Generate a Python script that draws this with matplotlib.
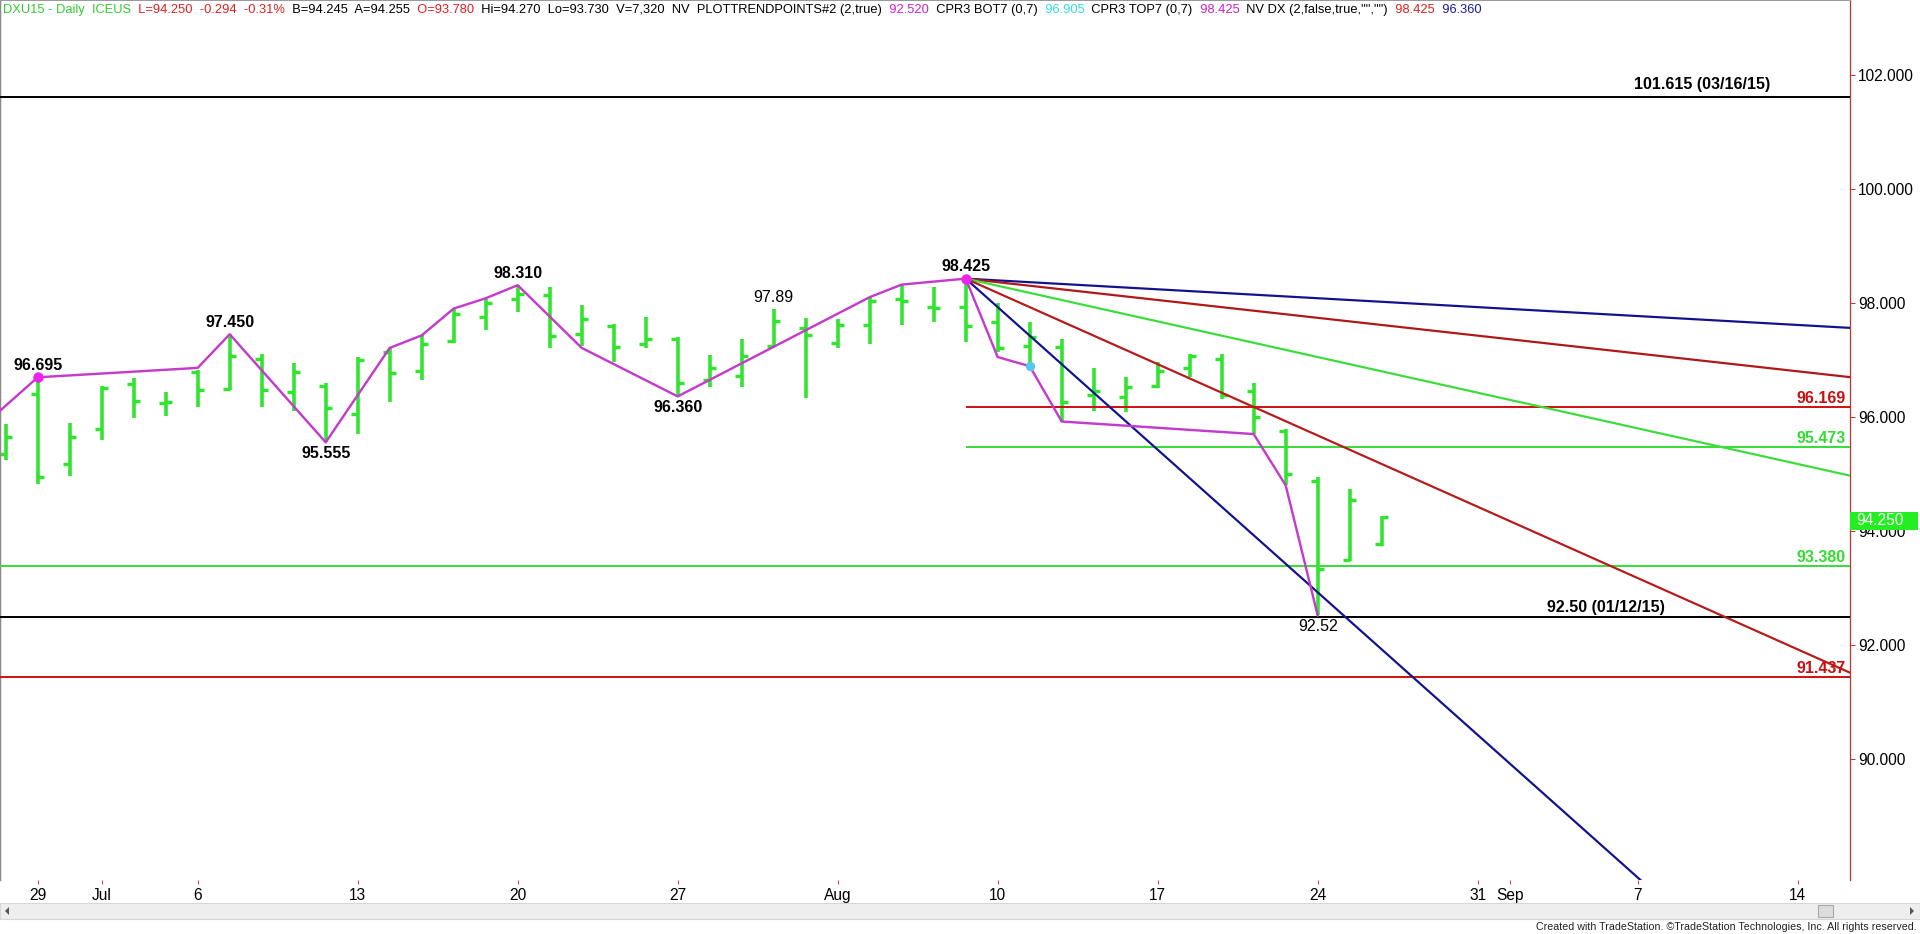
import numpy as np
import pandas as pd
import matplotlib
matplotlib.use("Agg")
import matplotlib.pyplot as plt
from matplotlib import font_manager
from matplotlib.patches import Rectangle, Polygon
import matplotlib.transforms as mtransforms

# ---------------- data ----------------
bar_dates = pd.bdate_range("2015-06-26", "2015-08-26")  # 44 daily bars
opens = [95.35, 96.41, 95.18, 95.79, 96.58, 96.25, 96.79, 96.49, 97.02, 96.43,
         96.55, 96.06, 97.13, 96.80, 97.34, 97.75, 98.07, 98.14, 97.46, 97.60,
         97.28, 97.37, 96.64, 96.71, 97.25, 97.56, 97.30, 97.62, 98.06, 97.93,
         97.93, 97.66, 97.24, 97.23, 96.38, 96.35, 96.55, 96.86, 97.02, 96.45,
         95.76, 94.87, 93.50, 93.78]
highs = [95.88, 96.695, 95.90, 96.55, 96.68, 96.44, 96.83, 97.45, 97.10, 96.94,
         96.60, 97.05, 97.20, 97.44, 97.90, 98.07, 98.31, 98.28, 97.96, 97.63,
         97.75, 97.40, 97.09, 97.37, 97.89, 97.73, 97.71, 98.10, 98.32, 98.28,
         98.425, 97.99, 97.66, 97.37, 96.86, 96.70, 96.97, 97.11, 97.11, 96.59,
         95.79, 94.94, 94.74, 94.27]
lows = [95.25, 94.83, 94.97, 95.60, 95.99, 96.01, 96.17, 96.48, 96.17, 96.10,
        95.555, 95.70, 96.27, 96.64, 97.30, 97.52, 97.84, 97.20, 97.25, 96.96,
        97.20, 96.36, 96.52, 96.52, 97.24, 96.33, 97.21, 97.28, 97.62, 97.66,
        97.32, 97.14, 96.90, 95.92, 96.10, 96.09, 96.51, 96.70, 96.32, 95.70,
        94.80, 92.52, 93.48, 93.73]
closes = [95.65, 94.94, 95.65, 96.51, 96.28, 96.27, 96.48, 97.07, 96.48, 96.79,
          96.15, 97.00, 96.77, 97.28, 97.81, 97.99, 98.16, 97.42, 97.72, 97.22,
          97.36, 96.59, 96.86, 97.07, 97.68, 97.43, 97.62, 98.03, 98.04, 97.91,
          97.60, 97.20, 97.40, 96.27, 96.45, 96.53, 96.80, 97.07, 96.38, 96.00,
          95.00, 93.34, 94.544, 94.25]

zigzag_dates = ["2015-06-25", "2015-06-29", "2015-07-06", "2015-07-07", "2015-07-10",
                "2015-07-14", "2015-07-15", "2015-07-16", "2015-07-17", "2015-07-20",
                "2015-07-22", "2015-07-27", "2015-08-04", "2015-08-05", "2015-08-07",
                "2015-08-10", "2015-08-11", "2015-08-12", "2015-08-20", "2015-08-21",
                "2015-08-24"]
zigzag_values = [95.70, 96.695, 96.86, 97.45, 95.555, 97.21, 97.43, 97.90, 98.08, 98.31,
                 97.21, 96.36, 98.10, 98.32, 98.425, 97.05, 96.89, 95.92, 95.70, 94.80,
                 92.52]

pivot_dates = ["2015-06-29", "2015-07-07", "2015-07-10", "2015-07-20",
               "2015-07-27", "2015-07-30", "2015-08-07", "2015-08-24"]
pivot_values = [96.695, 97.45, 95.555, 98.31, 96.36, 97.89, 98.425, 92.52]
pivot_texts = ["96.695", "97.450", "95.555", "98.310", "96.360", "97.89", "98.425", "92.52"]
pivot_above = [True, True, False, True, False, True, True, False]
pivot_bold = [True, True, True, True, True, False, True, False]

magenta_dot_dates = ["2015-06-29", "2015-08-07"]
magenta_dot_values = [96.695, 98.425]
cyan_dot_dates = ["2015-08-11"]
cyan_dot_values = [96.89]

fan_origin_date = "2015-08-07"
fan_origin_value = 98.425
fan_slopes = [-1 / 32, -1 / 16, -1 / 8, -1 / 4, -1 / 2]   # price per bar
fan_colors = ["#12128c", "#b01818", "#3ddc3d", "#b81a1a", "#12128c"]

level_values = [101.615, 96.169, 95.473, 93.380, 92.50, 91.437]
level_texts = ["101.615 (03/16/15)", "96.169", "95.473", "93.380", "92.50 (01/12/15)", "91.437"]
level_colors = ["#000000", "#d01515", "#3ddc3d", "#3ddc3d", "#000000", "#d01515"]
level_text_colors = ["#000000", "#c81010", "#33dd33", "#33dd33", "#000000", "#c81010"]
level_start_dates = [None, "2015-08-07", "2015-08-07", None, None, None]

y_ticks = [90, 92, 94, 96, 98, 100, 102]
last_price = 94.25

header_segments = [
    ("DXU15 - Daily  ICEUS", "#33cc33"),
    ("  L=94.250  -0.294  -0.31%", "#dd2020"),
    ("  B=94.245  A=94.255", "#000000"),
    ("  O=93.780", "#dd2020"),
    ("  Hi=94.270  Lo=93.730  V=7,320  NV  PLOTTRENDPOINTS#2 (2,true)", "#000000"),
    ("  92.520", "#cc22cc"),
    ("  CPR3 BOT7 (0,7)", "#000000"),
    ("  96.905", "#33dddd"),
    ("  CPR3 TOP7 (0,7)", "#000000"),
    ("  98.425", "#cc22cc"),
    ('  NV DX (2,false,true,"","")', "#000000"),
    ("  98.425", "#dd2020"),
    ("  96.360", "#1a1a99"),
]
copyright_text = "Created with TradeStation. \u00a9TradeStation Technologies, Inc. All rights reserved."

# ---------------- setup ----------------
W, H, DPI = 1920, 934, 100
avail = {f.name for f in font_manager.fontManager.ttflist}
SANS = "Liberation Sans" if "Liberation Sans" in avail else "DejaVu Sans"
NARROW = "Liberation Sans Narrow" if "Liberation Sans Narrow" in avail else SANS
plt.rcParams["font.family"] = [SANS, "DejaVu Sans"]

calendar = pd.bdate_range("2015-06-25", "2015-09-25")


def xpos(d):
    return calendar.get_loc(pd.Timestamp(d)) - 1


AX_RIGHT, AX_BOTTOM = 1850, 880
fig = plt.figure(figsize=(W / DPI, H / DPI), dpi=DPI)
fig.patch.set_facecolor("white")
ax = fig.add_axes([0, (H - AX_BOTTOM) / H, AX_RIGHT / W, AX_BOTTOM / H])
ax.set_facecolor("white")
# 32 px per bar, first bar centred at 5.7 px; price scale 57.04 px per point
x_left = -5.7 / 32
x_right = (AX_RIGHT - 5.7) / 32
ax.set_xlim(x_left, x_right)
ax.set_ylim(102 - (AX_BOTTOM - 74.7) / 57.04, 102 + 74.7 / 57.04)

px = 0.72  # points per pixel

# ---- OHLC bars ----
bx = np.array([xpos(d) for d in bar_dates], dtype=float)
green = "#30e430"
ax.vlines(bx, lows, highs, colors=green, lw=3.6 * px, zorder=2)
ax.hlines(opens, bx - 0.21, bx, colors=green, lw=3.4 * px, zorder=2)
ax.hlines(closes, bx, bx + 0.21, colors=green, lw=3.4 * px, zorder=2)

# ---- horizontal levels ----
for v, c, sd in zip(level_values, level_colors, level_start_dates):
    x0 = x_left - 1 if sd is None else xpos(sd)
    ax.plot([x0, x_right + 1], [v, v], color=c, lw=2 * px, zorder=3, solid_capstyle="butt")

# ---- fan lines ----
fx0 = xpos(fan_origin_date)
fx1 = x_right + 1
for s, c in zip(fan_slopes, fan_colors):
    ax.plot([fx0, fx1], [fan_origin_value, fan_origin_value + s * (fx1 - fx0)],
            color=c, lw=2.2 * px, zorder=4)

# ---- zigzag ----
zx = [xpos(d) for d in zigzag_dates]
ax.plot(zx, zigzag_values, color="#c43acc", lw=2.4 * px, zorder=5)
ax.plot([xpos(d) for d in magenta_dot_dates], magenta_dot_values, "o", color="#ee22ee",
        ms=9 * px, mec="#ee22ee", zorder=6)
ax.plot([xpos(d) for d in cyan_dot_dates], cyan_dot_values, "o", color="#55c8f0",
        ms=8 * px, mec="#55c8f0", zorder=6)

# ---- pivot labels ----
for d, v, t, up, b in zip(pivot_dates, pivot_values, pivot_texts, pivot_above, pivot_bold):
    ax.annotate(t, (xpos(d), v), xytext=(0, (12 if up else -11) * px), textcoords="offset points",
                ha="center", va="center", fontsize=11.5, fontweight="bold" if b else "normal",
                color="black", zorder=7)

# ---- level labels ----
label_anchor = [(1702, "center", 12), (1846, "right", 9), (1846, "right", 9),
                (1846, "right", 9), (1606, "center", 9), (1846, "right", 9)]
ytr = mtransforms.blended_transform_factory(ax.transAxes, ax.transData)
for v, t, c, (xp, ha, off) in zip(level_values, level_texts, level_text_colors, label_anchor):
    ax.annotate(t, (xp / AX_RIGHT, v), xycoords=ytr, xytext=(0, off * px),
                textcoords="offset points", ha=ha, va="center", fontsize=11.5,
                fontweight="bold", color=c, zorder=7)

# ---- axes styling ----
ax.spines["bottom"].set_visible(False)
ax.spines["left"].set_color("#8a8a8a")
ax.spines["left"].set_linewidth(2.5 * px)
ax.spines["top"].set_color("#9a9a9a")
ax.spines["top"].set_linewidth(2 * px)
ax.spines["right"].set_color("#c03535")
ax.spines["right"].set_linewidth(1.3 * px)

ax.yaxis.tick_right()
ax.set_yticks(y_ticks)
ax.set_yticklabels([f"{v:.3f}" for v in y_ticks])
ax.tick_params(axis="y", direction="out", length=5 * px, width=1 * px, color="#c03535",
               labelcolor="black", labelsize=11.2, pad=2)

tick_x, tick_lab = [], []
prev_month = None
for i, d in enumerate(calendar):
    x = i - 1
    if x < 0 or x > x_right:
        prev_month = d.month
        continue
    if d.month != prev_month:
        tick_x.append(x); tick_lab.append(d.strftime("%b"))
    elif d.weekday() == 0:
        tick_x.append(x); tick_lab.append(str(d.day))
    prev_month = d.month
ax.set_xticks(tick_x)
ax.set_xticklabels(tick_lab)
ax.tick_params(axis="x", direction="out", length=4 * px, width=1 * px, color="#e03a3a",
               labelcolor="black", labelsize=11.2, pad=3)

# ---- pixel transform for furniture ----
pix = mtransforms.Affine2D().scale(1.0 / W, -1.0 / H).translate(0, 1) + fig.transFigure

# last-price tag
ylast = 74.7 + (102 - last_price) * 57.04 + 4
fig.add_artist(Rectangle((AX_RIGHT, ylast - 9), 68, 18, transform=pix, facecolor="#22ee22",
                         edgecolor="none", zorder=5))
fig.add_artist(plt.Text(AX_RIGHT + 6, ylast, f"{last_price:.3f}", transform=pix, color="white",
                        fontsize=11.2, va="center", ha="left", zorder=6))

# scrollbar
fig.add_artist(Rectangle((0, 903), 1920, 16, transform=pix, facecolor="#eeeeee",
                         edgecolor="#d6d6d6", lw=0.8, zorder=1))
fig.add_artist(Rectangle((1818, 905), 15, 12, transform=pix, facecolor="#dcdcdc",
                         edgecolor="#a8a8a8", lw=0.8, zorder=2))
fig.add_artist(Polygon([[9, 907], [9, 915], [5, 911]], closed=True, transform=pix,
                       facecolor="#555555", edgecolor="none", zorder=2))
fig.add_artist(Polygon([[1910, 907], [1910, 915], [1914, 911]], closed=True, transform=pix,
                       facecolor="#555555", edgecolor="none", zorder=2))

# header
renderer = fig.canvas.get_renderer()
probe_str = "".join(s for s, _ in header_segments[:6]) + "  CPR"
probe = fig.text(0, 0, probe_str, fontsize=10, family=SANS)
pw = probe.get_window_extent(renderer).width
probe.remove()
hsize = 10 * 956 / pw
xcur = 3
for s, c in header_segments:
    t = fig.text(xcur / W, 1 - 10 / H, s, color=c, fontsize=hsize, family=SANS,
                 ha="left", va="center", zorder=8)
    xcur += t.get_window_extent(renderer).width

# copyright
probe = fig.text(0, 0, copyright_text, fontsize=10, family=NARROW)
cw = probe.get_window_extent(renderer).width
probe.remove()
fig.text(1917 / W, 1 - 927 / H, copyright_text, fontsize=10 * 376 / cw, family=NARROW,
         ha="right", va="center", color="#222222")

fig.savefig("out.png", dpi=DPI, facecolor="white")
